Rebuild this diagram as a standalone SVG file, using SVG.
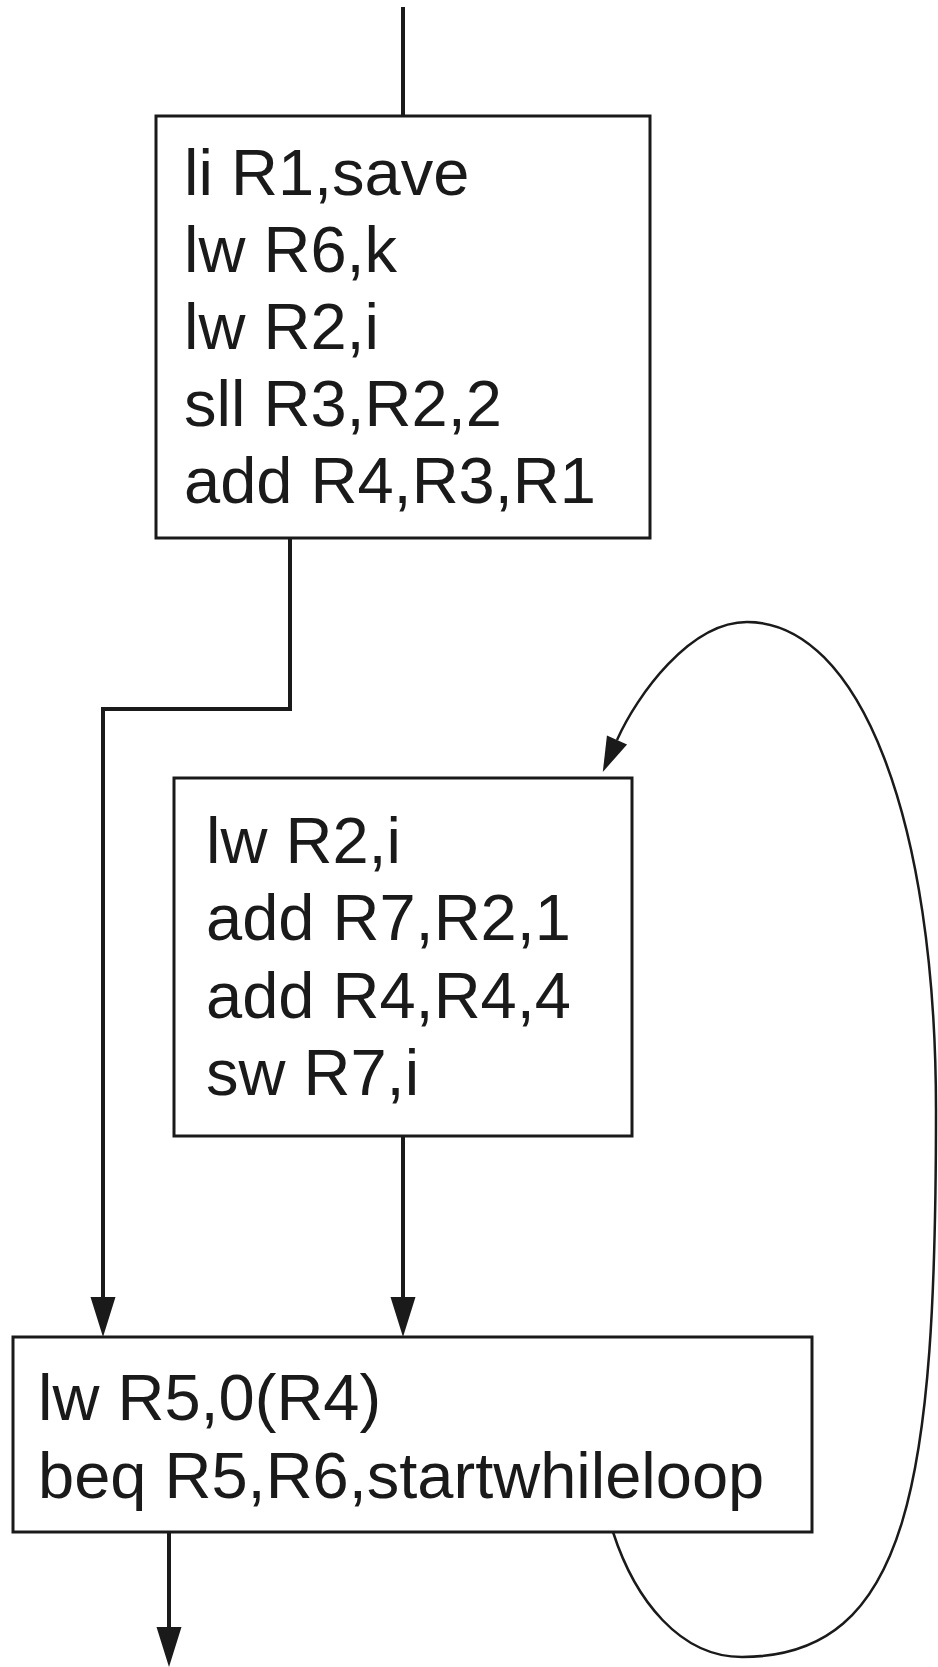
<svg xmlns="http://www.w3.org/2000/svg" width="938" height="1667" viewBox="0 0 938 1667">
<style>
.box{fill:#fff;stroke:#1a1a1a;stroke-width:3}
.t{font-family:"Liberation Sans",Arial,sans-serif;font-size:65px;fill:#1a1a1a}
.c{fill:none;stroke:#1a1a1a;stroke-width:4}
.loop{fill:none;stroke:#1a1a1a;stroke-width:2.5}
</style>
<defs>
<marker id="ah" markerUnits="userSpaceOnUse" markerWidth="40" markerHeight="26" refX="0" refY="12.5" orient="auto" overflow="visible">
<path d="M0,0 L40,12.5 L0,25 z" fill="#1a1a1a"/>
</marker>
<marker id="ahs" markerUnits="userSpaceOnUse" markerWidth="35" markerHeight="24" refX="0" refY="11" orient="auto" overflow="visible">
<path d="M0,0 L35,11 L0,22 z" fill="#1a1a1a"/>
</marker>
</defs>
<rect width="938" height="1667" fill="#fff"/>
<g id="connectors">
<path class="c" d="M403,7 V116"/>
<path class="c" d="M290,538 V709 H103 V1297" marker-end="url(#ah)"/>
<path class="c" d="M403,1136 V1297" marker-end="url(#ah)"/>
<path class="c" d="M169,1532 V1627" marker-end="url(#ah)"/>
<path class="loop" d="M613,1532 C635,1600 680,1657 742,1657 C910,1657 936,1480 936,1110 C936,820 860,622 747,622 C690,622 637,695 617,740" marker-end="url(#ahs)"/>
</g>
<g id="block1">
<rect class="box" x="156" y="116" width="494" height="422"/>
<text class="t" x="184" y="195">li R1,save</text>
<text class="t" x="184" y="272">lw R6,k</text>
<text class="t" x="184" y="349">lw R2,i</text>
<text class="t" x="184" y="426">sll R3,R2,2</text>
<text class="t" x="184" y="503">add R4,R3,R1</text>
</g>
<g id="block2">
<rect class="box" x="174" y="778" width="458" height="358"/>
<text class="t" x="206" y="863">lw R2,i</text>
<text class="t" x="206" y="940">add R7,R2,1</text>
<text class="t" x="206" y="1018">add R4,R4,4</text>
<text class="t" x="206" y="1095">sw R7,i</text>
</g>
<g id="block3">
<rect class="box" x="13" y="1337" width="799" height="195"/>
<text class="t" x="38" y="1420">lw R5,0(R4)</text>
<text class="t" x="38" y="1498">beq R5,R6,startwhileloop</text>
</g>
</svg>
